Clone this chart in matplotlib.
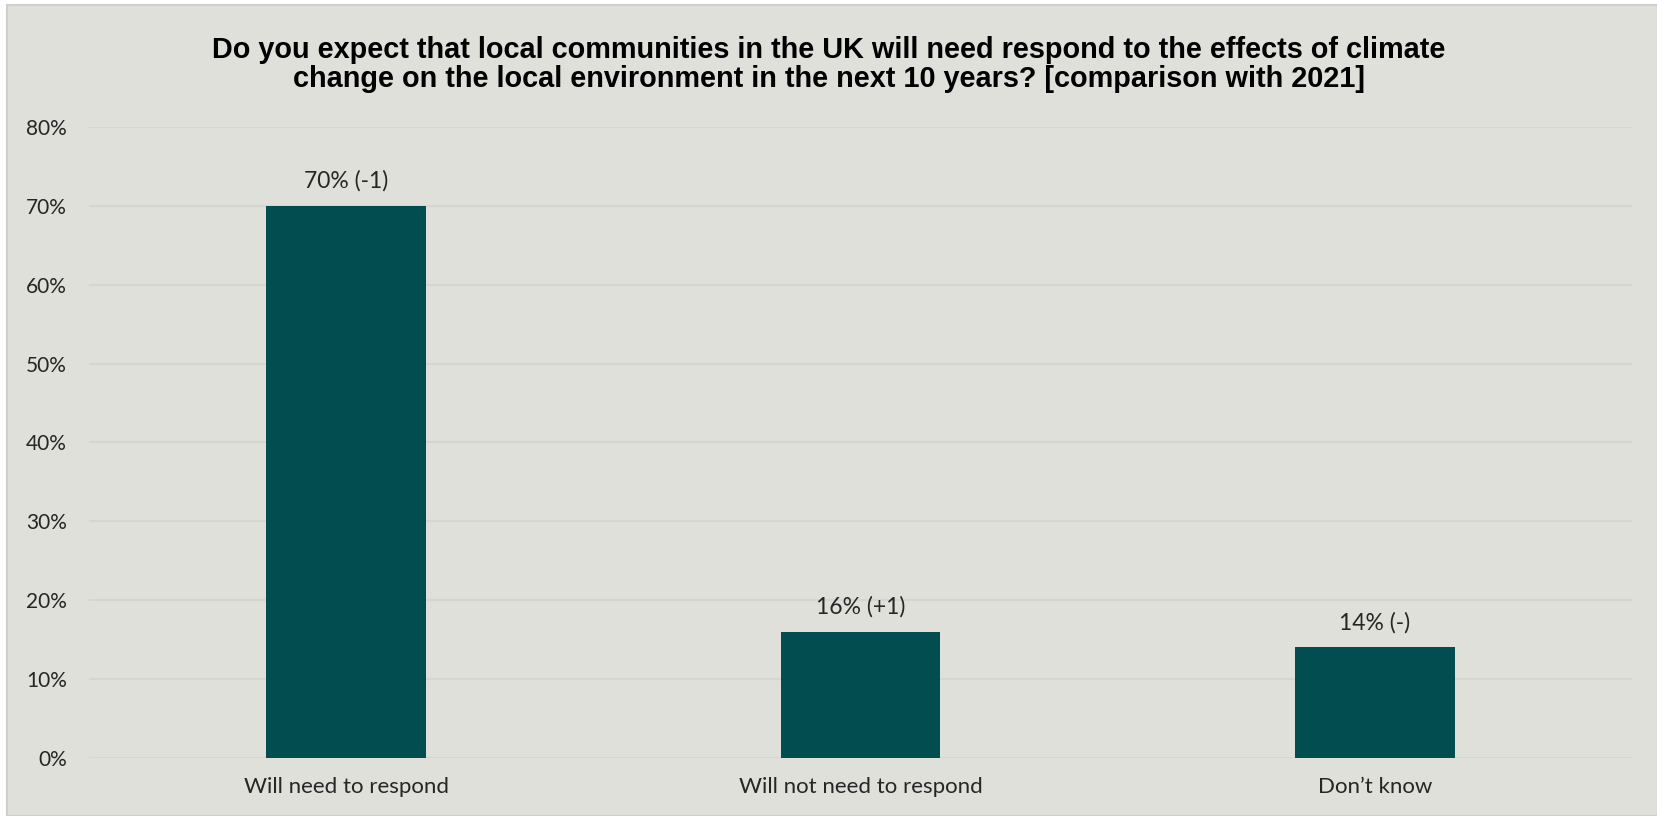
import matplotlib.pyplot as plt
from matplotlib.patches import Rectangle

categories = ["Will need to respond", "Will not need to respond", "Don\u2019t know"]
values = [70, 16, 14]
changes = ["-1", "+1", "-"]
yticks = [0, 10, 20, 30, 40, 50, 60, 70, 80]

title = ("Do you expect that local communities in the UK will need respond to the effects of climate\n"
         "change on the local environment in the next 10 years? [comparison with 2021]")

bg = "#DFE0D9"
bar_color = "#024D4F"
grid_color = "#D5D6D1"
text_color = "#262626"

W, H = 1658, 816
fig = plt.figure(figsize=(W / 100, H / 100), dpi=100)
fig.patch.set_facecolor("white")

# grey panel behind the chart, slightly inset from the top/left
fig.patches.append(Rectangle((7 / W, 0), 1 - 7 / W, 1 - 5 / H, transform=fig.transFigure,
                             facecolor=bg, edgecolor="#CFCFCB", linewidth=1.5, zorder=-10))

ax = fig.add_axes([89 / W, (H - 757.7) / H, (1632 - 89) / W, (757.7 - 127) / H])
ax.set_facecolor("none")

x = range(len(categories))
ax.bar(x, values, width=0.31, color=bar_color, zorder=3)
for xi, v, c in zip(x, values, changes):
    ax.annotate(f"{v}% ({c})", (xi, v), xytext=(0, 10), textcoords="offset points",
                ha="center", va="bottom", fontsize=16.5, family="Lato", color=text_color)

ax.set_xlim(-0.5, len(categories) - 0.5)
ax.set_ylim(0, 80)
ax.set_yticks(yticks)
ax.set_yticklabels([f"{t}%" for t in yticks], family="Lato", fontsize=15, color=text_color)
ax.set_xticks(list(x))
ax.set_xticklabels(categories, family="Lato", fontsize=16, color=text_color)
ax.tick_params(axis="both", length=0)
ax.tick_params(axis="y", pad=16)
ax.tick_params(axis="x", pad=14)
ax.yaxis.grid(True, color=grid_color, linewidth=1.5, zorder=0)
for s in ax.spines.values():
    s.set_visible(False)

fig.text(0.5, 1 - 64.5 / H, title, ha="center", va="center", fontsize=20.8,
         fontweight="bold", family="Liberation Sans", color="black", linespacing=1.08)

fig.savefig("out.png", dpi=100, facecolor=fig.get_facecolor())
